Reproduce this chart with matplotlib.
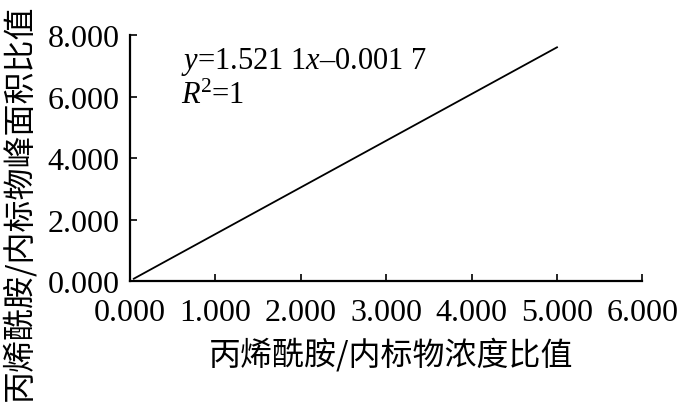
import numpy as np
import matplotlib
matplotlib.use("Agg")
import matplotlib.pyplot as plt

# concentration ratio vs peak area ratio
conc_ratio = [0.05, 0.5, 1.0, 2.0, 5.0]
area_ratio = [0.075, 0.76, 1.52, 3.04, 7.60]

x_ticks = [0, 1, 2, 3, 4, 5, 6]
y_ticks = [0, 2, 4, 6, 8]

x_label = "丙烯酰胺/内标物浓度比值"
y_label = "丙烯酰胺/内标物峰面积比值"
eq_text = r"$y$=1.521 1$x$–0.001 7"
r2_text = r"$R$$^2$=1"

plt.rcParams["font.family"] = ["Liberation Serif", "Noto Sans CJK SC"]
plt.rcParams["mathtext.fontset"] = "custom"
plt.rcParams["mathtext.rm"] = "Liberation Serif"
plt.rcParams["mathtext.it"] = "Liberation Serif:italic"

fig = plt.figure(figsize=(6.89, 4.06), dpi=100)
ax = fig.add_axes([0.188, 0.3054, 0.7445, 0.6059])

ax.plot(conc_ratio, area_ratio, color="black", lw=1.3)

ax.set_xlim(0, 6)
ax.set_ylim(0, 8)
ax.set_xticks(x_ticks)
ax.set_yticks(y_ticks)
ax.set_xticklabels(["%.3f" % v for v in x_ticks])
ax.set_yticklabels(["%.3f" % v for v in y_ticks])

for s in ["top", "right"]:
    ax.spines[s].set_visible(False)
for s in ["left", "bottom"]:
    ax.spines[s].set_linewidth(1.6)

ax.tick_params(direction="in", length=5, width=1.2, labelsize=23, color="black")
ax.tick_params(axis="x", pad=12)
ax.tick_params(axis="y", pad=7)

ax.text(0.6, 7.15, eq_text, fontsize=22, va="center", ha="left")
ax.text(0.6, 6.05, r2_text, fontsize=22, va="center", ha="left")

fig.text(391 / 689, 1 - 355 / 406, x_label, family="Noto Sans CJK SC",
         fontsize=23, ha="center", va="center")
fig.text(18 / 689, 1 - 203 / 406, y_label, family="Noto Sans CJK SC",
         fontsize=23, ha="center", va="center", rotation=90)

fig.savefig("out.png", dpi=100)
